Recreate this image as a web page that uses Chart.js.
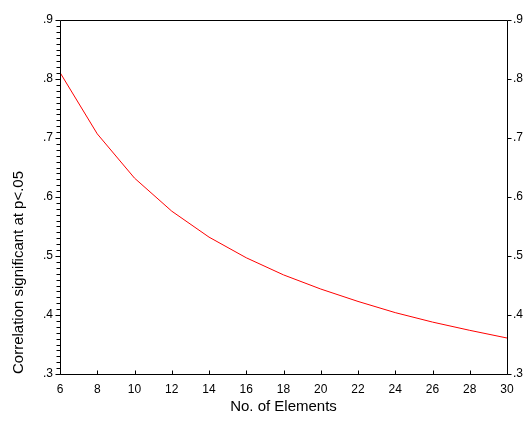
<!DOCTYPE html>
<html>
<head>
<meta charset="utf-8">
<script src="https://cdn.jsdelivr.net/npm/chart.js@4/dist/chart.umd.min.js"></script>
<style>
  html, body { margin: 0; padding: 0; background: #fff; }
  #wrap { width: 525px; height: 434px; }
</style>
</head>
<body>
<div id="wrap"><canvas id="c" width="525" height="434"></canvas></div>
<script>
// Data
const elements = [6, 8, 10, 12, 14, 16, 18, 20, 22, 24, 26, 28, 30];
const criticalR = [0.811, 0.707, 0.632, 0.576, 0.532, 0.497, 0.468, 0.444, 0.423, 0.404, 0.388, 0.374, 0.361];
const yMin = 0.3, yMax = 0.9, yStep = 0.1, yMinorStep = 0.01;
const xMin = 6, xMax = 30, xStep = 2;
const xTitle = 'No. of Elements';
const yTitle = 'Correlation significant at p<.05';

const FONT = "'Liberation Sans', Arial, Helvetica, sans-serif";

function fmtY(v) {
  const k = Math.round(v * 10);
  if (Math.abs(v * 10 - k) > 1e-6) return '';
  return '.' + k;
}

const tickPlugin = {
  id: 'spssTicks',
  afterDraw(chart) {
    const ctx = chart.ctx;
    const a = chart.chartArea;
    const y = chart.scales.y, x = chart.scales.x;
    ctx.save();
    ctx.strokeStyle = '#000';
    ctx.lineWidth = 1;
    ctx.beginPath();
    const L = Math.round(a.left) + 0.5, R = Math.round(a.right) + 0.5;
    const T = Math.round(a.top) + 0.5, B = Math.round(a.bottom) + 0.5;
    ctx.rect(L, T, R - L, B - T);
    const n = Math.round((yMax - yMin) / yMinorStep);
    for (let i = 0; i <= n; i++) {
      const v = yMin + i * yMinorStep;
      const py = Math.round(y.getPixelForValue(v)) + 0.5;
      const major = (i % 10 === 0);
      ctx.moveTo(L - (major ? 5 : 4), py);
      ctx.lineTo(L, py);
    }
    for (let v = yMin; v <= yMax + 1e-9; v += yStep) {
      const py = Math.round(y.getPixelForValue(v)) + 0.5;
      ctx.moveTo(R, py);
      ctx.lineTo(R + 4, py);
    }
    for (let v = xMin; v <= xMax; v += xStep) {
      const px = Math.round(x.getPixelForValue(v)) + 0.5;
      ctx.moveTo(px, B);
      ctx.lineTo(px, B - 4);
    }
    ctx.stroke();
    ctx.restore();
  }
};

new Chart(document.getElementById('c'), {
  type: 'line',
  data: {
    datasets: [{
      data: elements.map((e, i) => ({ x: e, y: criticalR[i] })),
      borderColor: '#ff0000',
      borderWidth: 1,
      pointRadius: 0,
      tension: 0,
      fill: false
    }]
  },
  options: {
    responsive: false,
    devicePixelRatio: 1,
    animation: false,
    layout: { padding: { top: 20, left: 0, right: 0, bottom: 0 } },
    plugins: { legend: { display: false }, tooltip: { enabled: false } },
    scales: {
      x: {
        type: 'linear',
        min: xMin, max: xMax,
        grid: { display: false, drawTicks: false, tickLength: 0 },
        border: { display: false },
        ticks: { stepSize: xStep, color: '#000', font: { family: FONT, size: 12 }, padding: 8, maxRotation: 0 },
        title: { display: true, text: xTitle, color: '#000', font: { family: FONT, size: 15 }, padding: { top: 12, bottom: 18 } },
        afterFit(s) { s.height = 60; }
      },
      y: {
        type: 'linear',
        position: 'left',
        min: yMin, max: yMax,
        grid: { display: false, drawTicks: false, tickLength: 0 },
        border: { display: false },
        ticks: { stepSize: yStep, color: '#000', font: { family: FONT, size: 12 }, padding: 7, callback: fmtY },
        title: { display: true, text: yTitle, align: 'start', color: '#000', font: { family: FONT, size: 15 }, padding: { top: 10, bottom: 0 } },
        afterFit(s) { s.width = 60; }
      },
      y2: {
        type: 'linear',
        position: 'right',
        min: yMin, max: yMax,
        grid: { display: false, drawTicks: false, tickLength: 0 },
        border: { display: false },
        ticks: { stepSize: yStep, color: '#000', font: { family: FONT, size: 12 }, padding: 6, callback: fmtY },
        afterFit(s) { s.width = 18; }
      }
    }
  },
  plugins: [tickPlugin]
});
</script>
</body>
</html>
